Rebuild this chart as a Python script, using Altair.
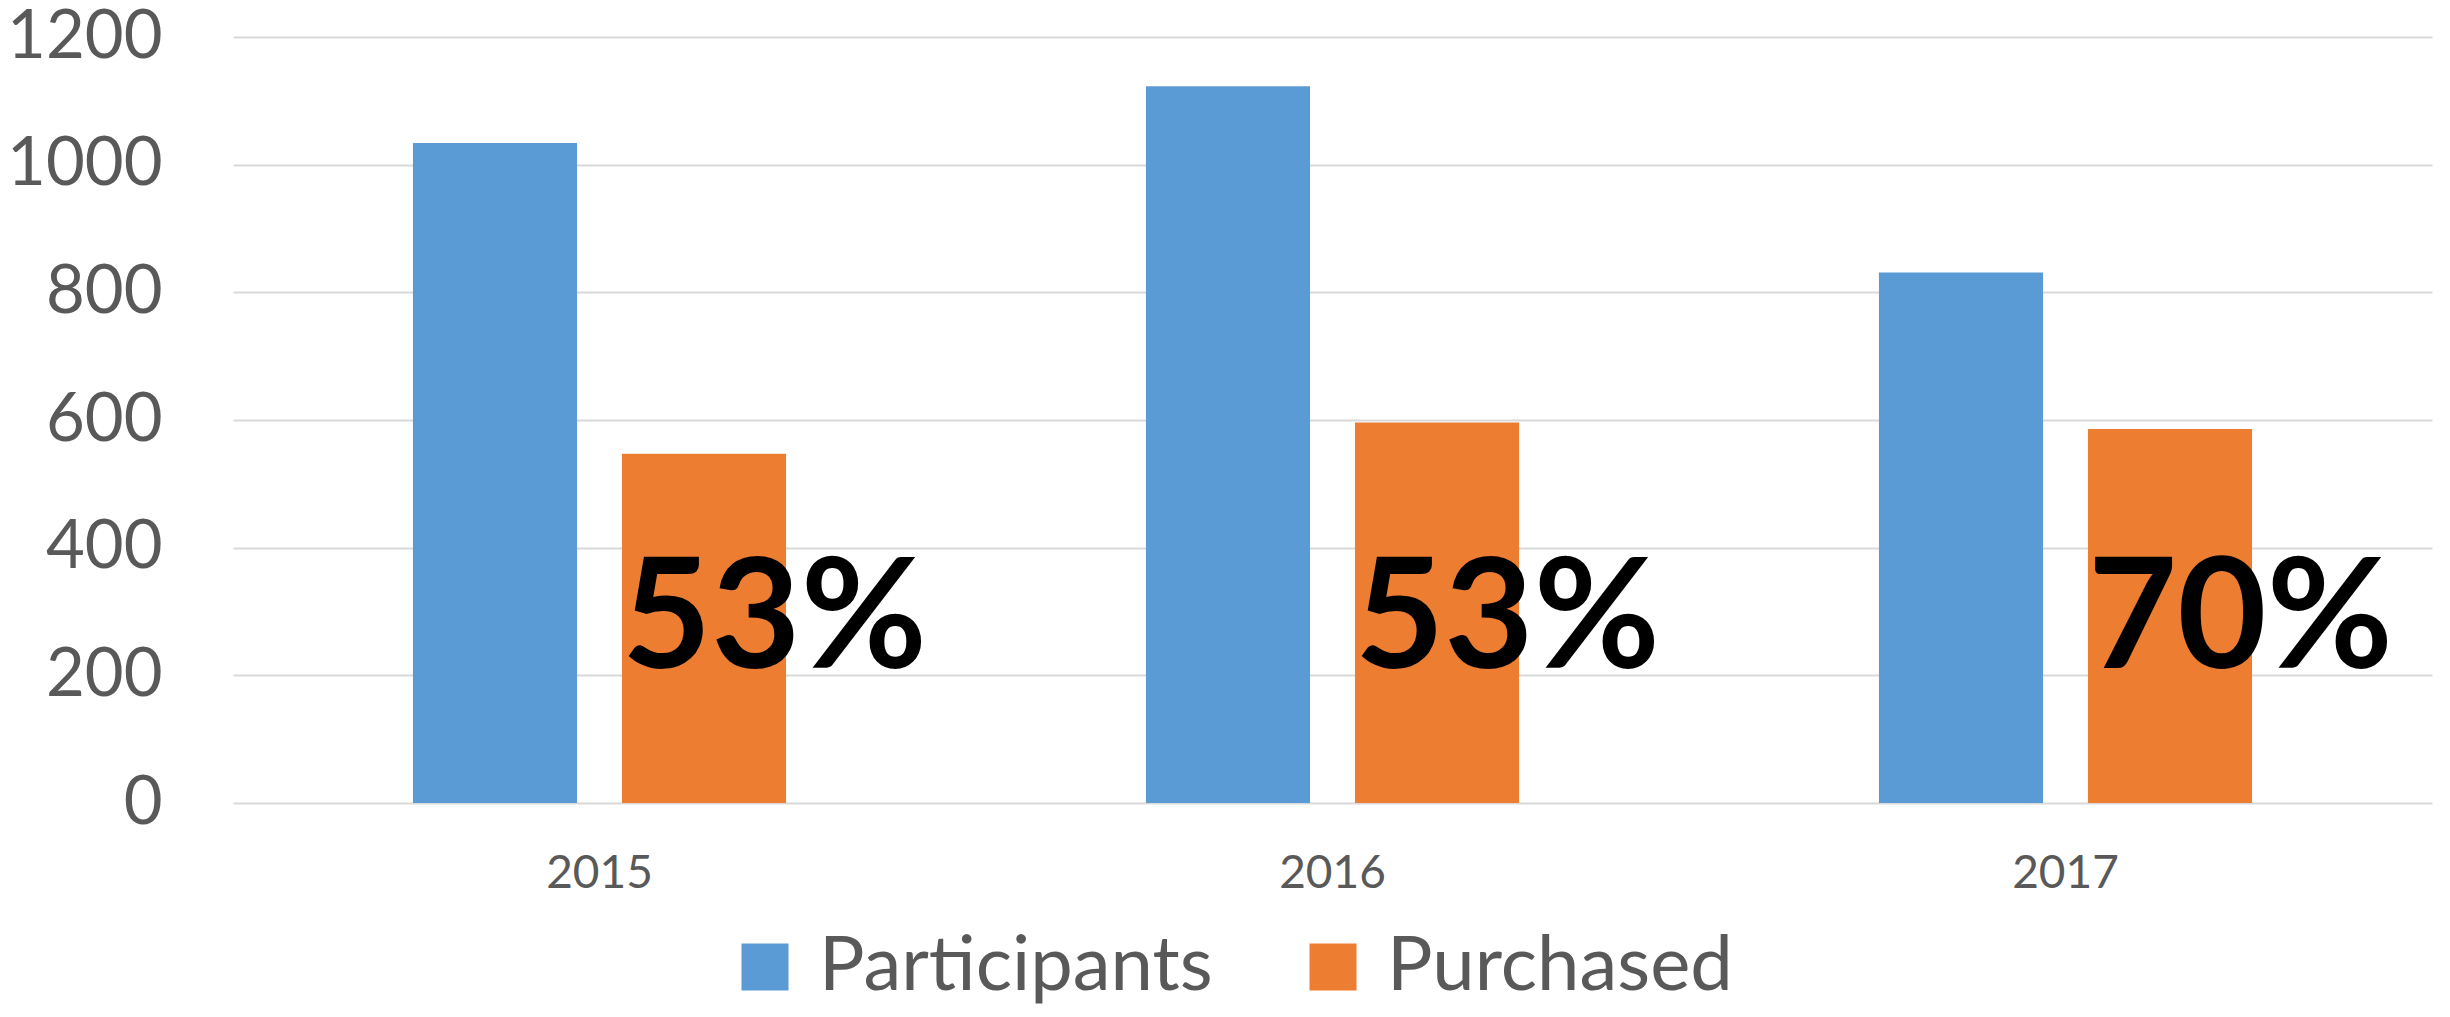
import altair as alt
import pandas as pd

years = ["2015", "2016", "2017"]
participants = [1034, 1123, 831]
purchased = [547, 596, 586]
pct_labels = ["53%", "53%", "70%"]
series = ["Participants", "Purchased"]
colors = ["#5B9BD5", "#ED7D31"]
y_ticks = [0, 200, 400, 600, 800, 1000, 1200]
label_base = 212

rows = []
for i, yr in enumerate(years):
    rows.append({"Year": yr, "Series": series[0], "Value": participants[i]})
    rows.append({"Year": yr, "Series": series[1], "Value": purchased[i]})
bars_df = pd.DataFrame(rows)
labels_df = pd.DataFrame({"Year": years, "Series": [series[1]] * 3, "Label": pct_labels})

FONT = "Lato"
GREY = "#595959"

x_enc = alt.X(
    "Year:N",
    sort=years,
    scale=alt.Scale(paddingInner=0.491, paddingOuter=0.2455),
    axis=alt.Axis(
        title=None, labelAngle=0, ticks=False, domain=False,
        labelFontSize=46, labelColor=GREY, labelFont=FONT, labelPadding=48,
    ),
)
xo_enc = alt.XOffset("Series:N", sort=series, scale=alt.Scale(paddingInner=0.215, paddingOuter=0))

bars = alt.Chart(bars_df).mark_bar().encode(
    x=x_enc,
    xOffset=xo_enc,
    y=alt.Y(
        "Value:Q",
        scale=alt.Scale(domain=[0, 1200], nice=False),
        axis=alt.Axis(
            title=None, values=y_ticks, format="d", ticks=False, domain=False,
            labelFontSize=67, labelColor=GREY, labelFont=FONT, labelPadding=71,
            gridColor="#D9D9D9", gridWidth=2,
        ),
    ),
    color=alt.Color(
        "Series:N",
        sort=series,
        scale=alt.Scale(domain=series, range=colors),
        legend=alt.Legend(
            title=None, orient="none", direction="horizontal",
            legendX=494, legendY=892,
            symbolType="square", symbolSize=2209, symbolStrokeWidth=0,
            labelFontSize=76, labelColor=GREY, labelFont=FONT, labelLimit=1000,
            labelOffset=16, columnPadding=82, padding=0,
        ),
    ),
)

texts = alt.Chart(labels_df).mark_text(
    align="left", baseline="alphabetic", dx=-82,
    fontSize=154, fontWeight="bold", font=FONT, color="#000000",
).encode(
    x=alt.X("Year:N", sort=years),
    xOffset=alt.XOffset("Series:N", sort=series),
    y=alt.datum(label_base),
    text="Label:N",
)

chart = alt.layer(bars, texts).properties(
    width=2199, height=766,
    autosize=alt.AutoSizeParams(type="none"),
    padding={"left": 225, "top": 29, "right": 2, "bottom": 206},
).configure(font=FONT).configure_view(stroke=None)

chart.save("out.html", embed_options={"renderer": "svg", "actions": False})
